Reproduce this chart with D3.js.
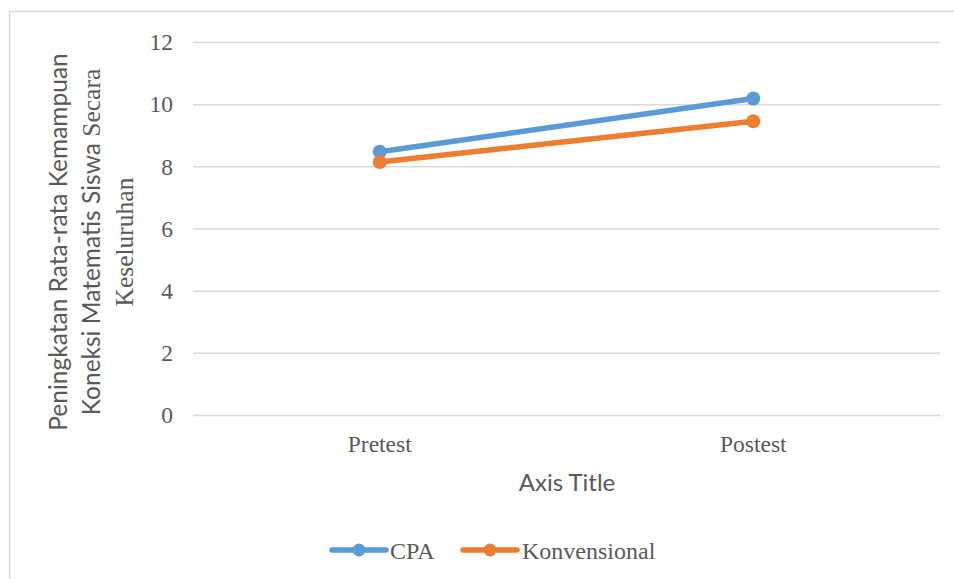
<!DOCTYPE html>
<html><head><meta charset="utf-8">
<script src="https://cdn.jsdelivr.net/npm/d3@7"></script>
<style>body{margin:0;background:#fff;}svg{display:block;}</style>
</head><body>
<script>
const categories = ["Pretest", "Postest"];
const seriesNames = ["CPA", "Konvensional"];
const cpaValues = [8.47, 10.18];
const konvValues = [8.14, 9.45];
const yTicks = [0, 2, 4, 6, 8, 10, 12];
// each title line: [sans part, serif part]
const yTitleLines = [
  ["Peningkatan Rata-rata Kemampuan", ""],
  ["Koneksi Matematis Siswa", " Secara"],
  ["", "Keseluruhan"]
];
const xTitle = "Axis Title";
const colors = ["#5B9BD5", "#ED7D31"];

const series = [
  {name: seriesNames[0], values: cpaValues, color: colors[0]},
  {name: seriesNames[1], values: konvValues, color: colors[1]}
];

const W = 954, H = 579;
const svg = d3.select("body").append("svg").attr("width", W).attr("height", H);
svg.append("rect").attr("x", 9.5).attr("y", 11.5).attr("width", 960).attr("height", 600)
  .attr("fill", "#fff").attr("stroke", "#D9D9D9").attr("stroke-width", 1.5);

const plot = {left: 193, right: 940, top: 42, bottom: 415};
const x = d3.scaleBand().domain(categories).range([plot.left, plot.right]);
const y = d3.scaleLinear().domain([0, 12]).range([plot.bottom, plot.top]);

const serif = "'Liberation Serif', 'Times New Roman', serif";
const sans = "Lato, 'DejaVu Sans', sans-serif";
const textColor = "#595959";

// gridlines + y tick labels
const yAxis = d3.axisLeft(y).tickValues(yTicks).tickSize(-(plot.right - plot.left)).tickPadding(20).tickFormat(d3.format("d"));
const gy = svg.append("g").attr("transform", `translate(${plot.left},0)`).attr("font-family", null).call(yAxis);
gy.attr("font-family", serif);
gy.select(".domain").remove();
gy.selectAll(".tick line").attr("stroke", "#D9D9D9").attr("stroke-width", 1.5);
gy.selectAll(".tick text").attr("fill", textColor).style("font-family", serif).style("font-size", "23.5px")
  .attr("dy", "0.33em");

// x axis labels
const xAxis = d3.axisBottom(x).tickSize(0).tickPadding(0);
const gx = svg.append("g").attr("transform", `translate(0,${plot.bottom})`).call(xAxis);
gx.attr("font-family", serif);
gx.select(".domain").remove();
gx.selectAll(".tick text").attr("fill", textColor).style("font-family", serif).style("font-size", "23.5px")
  .attr("y", 37).attr("dy", 0);

// lines
const line = d3.line().x((d, i) => x(categories[i]) + x.bandwidth() / 2).y(d => y(d));
series.forEach(s => {
  svg.append("path").datum(s.values).attr("d", line).attr("fill", "none")
    .attr("stroke", s.color).attr("stroke-width", 5.5).attr("stroke-linecap", "round");
  svg.selectAll(null).data(s.values).enter().append("circle")
    .attr("cx", (d, i) => x(categories[i]) + x.bandwidth() / 2)
    .attr("cy", d => y(d)).attr("r", 7).attr("fill", s.color);
});

// y title (three lines, mixed fonts as in the original)
yTitleLines.forEach((parts, i) => {
  const t = svg.append("text").attr("transform", `translate(${67 + i * 33},242) rotate(-90)`)
    .attr("text-anchor", "middle").attr("fill", textColor);
  if (parts[0]) t.append("tspan").style("font-family", sans).style("font-size", "24.5px").text(parts[0]);
  if (parts[1]) t.append("tspan").style("font-family", serif).style("font-size", "25.5px").text(parts[1]);
});

// x title
svg.append("text").attr("x", 567).attr("y", 491).attr("text-anchor", "middle")
  .style("font-family", sans).style("font-size", "24px").attr("fill", textColor).text(xTitle);

// legend
const legendPos = [{lx: 332, tx: 390}, {lx: 463, tx: 522}];
series.forEach((s, i) => {
  const p = legendPos[i];
  svg.append("line").attr("x1", p.lx).attr("x2", p.lx + 54).attr("y1", 550).attr("y2", 550)
    .attr("stroke", s.color).attr("stroke-width", 5.5).attr("stroke-linecap", "round");
  svg.append("circle").attr("cx", p.lx + 27).attr("cy", 550).attr("r", 6.5).attr("fill", s.color);
  svg.append("text").attr("x", p.tx).attr("y", 559).style("font-family", serif).style("font-size", "24px")
    .attr("fill", textColor).text(s.name);
});
</script>
</body></html>
